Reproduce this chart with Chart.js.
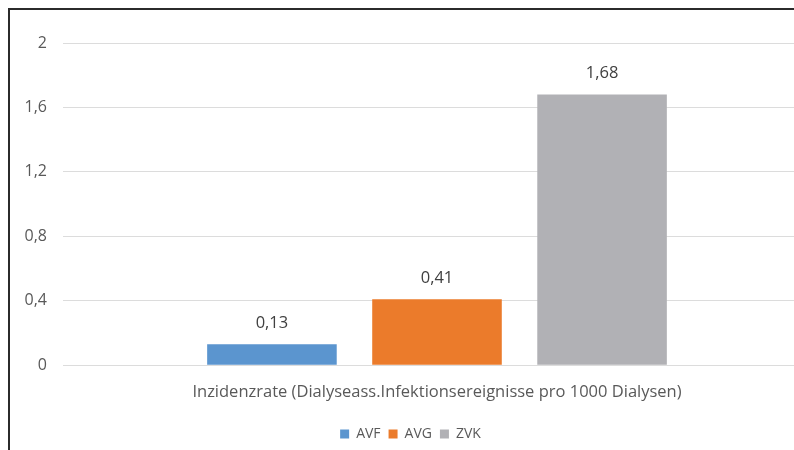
<!DOCTYPE html>
<html>
<head>
<meta charset="utf-8">
<script src="https://cdn.jsdelivr.net/npm/chart.js@4"></script>
<style>
  html, body { margin: 0; padding: 0; background: #fff; overflow: hidden; width: 794px; height: 450px; }
  #frame {
    position: absolute; left: 8px; top: 8px;
    width: 840px; height: 460px;
    border-left: 2px solid #2b2b2b; border-top: 2px solid #2b2b2b;
  }
  #wrap { position: absolute; left: 0; top: 0; width: 828px; height: 445px; }
</style>
</head>
<body>
<div id="frame"><div id="wrap"><canvas id="c"></canvas></div></div>
<script>
// Infection incidence per access type
const categories = ['Inzidenzrate (Dialyseass.Infektionsereignisse pro 1000 Dialysen)'];
const seriesNames = ['AVF', 'AVG', 'ZVK'];
const avfValues = [0.13];
const avgValues = [0.41];
const zvkValues = [1.68];
const yTicks = [0, 0.4, 0.8, 1.2, 1.6, 2];

const colors = ['#5b95cf', '#eb7b2b', '#b1b1b5'];
const fontFamily = '"Open Sans", "Liberation Sans", sans-serif';

const fmt = v => String(+v.toFixed(2)).replace('.', ',');

// Writes each bar's value just above it
const valueLabels = {
  id: 'valueLabels',
  afterDatasetsDraw(chart) {
    const ctx = chart.ctx;
    ctx.save();
    ctx.font = '16.5px ' + fontFamily;
    ctx.fillStyle = '#404040';
    ctx.textAlign = 'center';
    ctx.textBaseline = 'middle';
    chart.data.datasets.forEach((ds, i) => {
      chart.getDatasetMeta(i).data.forEach((bar, j) => {
        ctx.fillText(fmt(ds.data[j]), bar.x, bar.y - 21);
      });
    });
    ctx.restore();
  }
};

new Chart(document.getElementById('c'), {
  type: 'bar',
  data: {
    labels: categories,
    datasets: [
      { label: seriesNames[0], data: avfValues, backgroundColor: colors[0] },
      { label: seriesNames[1], data: avgValues, backgroundColor: colors[1] },
      { label: seriesNames[2], data: zvkValues, backgroundColor: colors[2] }
    ]
  },
  options: {
    responsive: true,
    maintainAspectRatio: false,
    animation: false,
    layout: { padding: { top: 33, right: 27, left: 0, bottom: 4 } },
    datasets: { bar: { categoryPercentage: 0.662, barPercentage: 0.785 } },
    scales: {
      x: {
        grid: { display: false, drawTicks: false },
        border: { display: false },
        ticks: { color: '#595959', font: { family: fontFamily, size: 16.5 }, padding: 17 }
      },
      y: {
        min: 0, max: 2,
        afterBuildTicks: s => { s.ticks = yTicks.map(v => ({ value: v })); },
        afterFit: s => { s.width = 53; },
        grid: { color: '#dcdcdc', lineWidth: 1, drawTicks: false },
        border: { display: false },
        ticks: {
          color: '#595959', padding: 16,
          font: { family: fontFamily, size: 16 },
          callback: v => fmt(v)
        }
      }
    },
    plugins: {
      legend: {
        position: 'bottom',
        labels: {
          boxWidth: 9, boxHeight: 9, padding: 8,
          color: '#595959', font: { family: fontFamily, size: 14 }
        }
      },
      tooltip: { enabled: false }
    }
  },
  plugins: [valueLabels]
});
</script>
</body>
</html>
